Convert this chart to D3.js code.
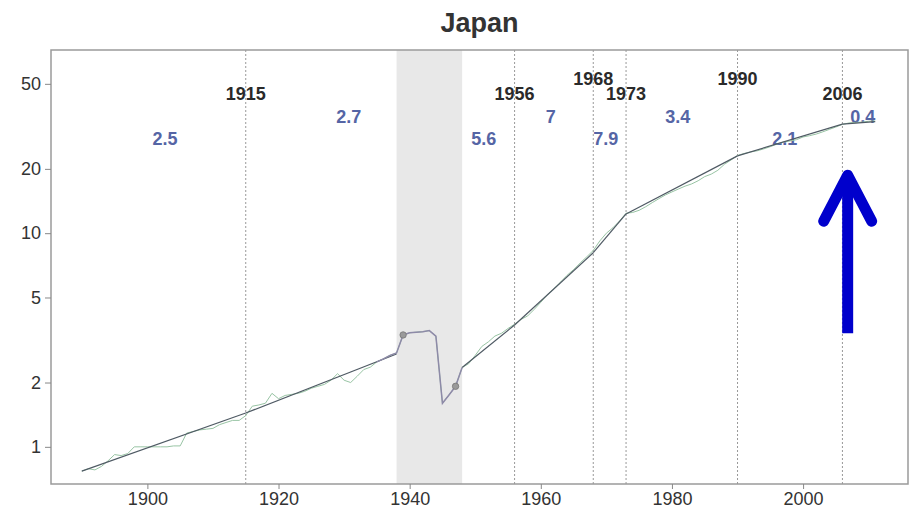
<!DOCTYPE html>
<html>
<head>
<meta charset="utf-8">
<script src="https://cdn.jsdelivr.net/npm/d3@7"></script>
<style>
  body { margin: 0; background: #fff; }
  svg { display: block; font-family: "Liberation Sans", Arial, sans-serif; }
</style>
</head>
<body>
<svg id="chart" width="922" height="511"></svg>
<script>
// GDP per capita index, Japan
const years = d3.range(1890, 2012)
const values = [
  0.77, 0.79, 0.78, 0.81, 0.86, 0.92, 0.91, 0.93, 1.00, 1.00,
  1.00, 1.00, 1.00, 1.00, 1.01, 1.01, 1.16, 1.18, 1.20, 1.21,
  1.22, 1.27, 1.30, 1.33, 1.33, 1.40, 1.55, 1.57, 1.60, 1.78,
  1.68, 1.74, 1.76, 1.78, 1.82, 1.88, 1.92, 1.96, 2.05, 2.20,
  2.05, 2.00, 2.14, 2.30, 2.36, 2.50, 2.58, 2.68, 2.75, 3.34,
  3.42, 3.44, 3.46, 3.50, 3.30, 1.60, 1.75, 1.92, 2.35, 2.45,
  2.68, 2.95, 3.10, 3.30, 3.40, 3.58, 3.75, 3.95, 4.10, 4.40,
  4.75, 5.15, 5.50, 5.90, 6.35, 6.75, 7.25, 7.75, 8.30, 9.20,
  10.0, 10.6, 11.4, 12.4, 12.5, 12.8, 13.3, 13.9, 14.5, 15.1,
  15.6, 16.1, 16.6, 17.0, 17.6, 18.4, 18.9, 19.7, 21.0, 22.0,
  23.1, 23.6, 24.0, 24.3, 24.8, 25.4, 26.1, 26.7, 27.0, 27.4,
  28.2, 28.6, 29.1, 29.8, 30.6, 31.4, 32.3, 32.8, 33.0, 33.1,
  33.4, 33.5
]

// piecewise trend, broken over the war years
const trendYears = [1890, 1915, 1938, 1948, 1956, 1968, 1973, 1990, 2006, 2011]
const trendValues = [0.77, 1.44, 2.72, 2.35, 3.72, 8.1, 12.3, 23.0, 32.4, 33.3]

const warStart = 1938
const warEnd = 1948
const warMarkers = [1939, 1947]

const breakYears = [1915, 1956, 1968, 1973, 1990, 2006]
const rateLabels = ["2.5", "2.7", "5.6", "7", "7.9", "3.4", "2.1", "0.4"]
const rateYears = [1902.7, 1930.7, 1951.3, 1961.5, 1969.9, 1980.9, 1997.2, 2009.1]

const xTicks = [1900, 1920, 1940, 1960, 1980, 2000]
const yTicks = [1, 2, 5, 10, 20, 50]

// arrow annotation (data units)
const arrowYear = 2006.8
const arrowFrom = 3.4
const arrowTo = 19.5

const svg = d3.select("#chart")
const margin = { top: 50, right: 14, bottom: 27, left: 51 }
const width = 922 - margin.left - margin.right
const height = 511 - margin.top - margin.bottom

const x = d3.scaleLinear().domain([1885.3, 2016]).range([margin.left, margin.left + width])
const y = d3.scaleLog().domain([0.67, 72]).range([margin.top + height, margin.top])

const data = years.map((yr, i) => ({ year: yr, value: values[i] }))
const trend = trendYears.map((yr, i) => ({ year: yr, value: trendValues[i] }))

// title
svg.append("text")
  .attr("x", margin.left + width / 2)
  .attr("y", 32)
  .attr("text-anchor", "middle")
  .attr("font-size", 27)
  .attr("font-weight", "bold")
  .attr("fill", "#333")
  .text("Japan")

// war shading
svg.append("rect")
  .attr("x", x(warStart))
  .attr("y", margin.top)
  .attr("width", x(warEnd) - x(warStart))
  .attr("height", height)
  .attr("fill", "#e8e8e8")

// break lines
svg.selectAll(".break")
  .data(breakYears)
  .join("line")
  .attr("class", "break")
  .attr("x1", d => x(d)).attr("x2", d => x(d))
  .attr("y1", margin.top).attr("y2", margin.top + height)
  .attr("stroke", "#999")
  .attr("stroke-width", 1)
  .attr("stroke-dasharray", "2,2")

// break year labels, raised where they would crowd
const raised = new Set([1968, 1990])
svg.selectAll(".break-label")
  .data(breakYears)
  .join("text")
  .attr("class", "break-label")
  .attr("x", d => x(d))
  .attr("y", d => margin.top + (raised.has(d) ? 35 : 50))
  .attr("text-anchor", "middle")
  .attr("font-size", 18)
  .attr("font-weight", "bold")
  .attr("fill", "#2a2a2a")
  .text(d => d)

// growth rate labels
svg.selectAll(".rate-label")
  .data(rateLabels)
  .join("text")
  .attr("class", "rate-label")
  .attr("x", (d, i) => x(rateYears[i]))
  .attr("y", (d, i) => margin.top + (i % 2 ? 73 : 95))
  .attr("text-anchor", "middle")
  .attr("font-size", 18)
  .attr("font-weight", "bold")
  .attr("fill", "#5565a5")
  .text(d => d)

const line = d3.line().x(d => x(d.year)).y(d => y(d.value))

// actual series
svg.append("path")
  .datum(data)
  .attr("fill", "none")
  .attr("stroke", "#98c4a4")
  .attr("stroke-width", 1)
  .attr("d", line)

// trend segments
for (let i = 0; i < trend.length - 1; i++) {
  if (trend[i].year === warStart) continue
  svg.append("path")
    .datum([trend[i], trend[i + 1]])
    .attr("fill", "none")
    .attr("stroke", "#4f5a64")
    .attr("stroke-width", 1.2)
    .attr("d", line)
}

// war years of the series
svg.append("path")
  .datum(data.filter(d => d.year >= warStart - 3 && d.year <= warEnd))
  .attr("fill", "none")
  .attr("stroke", "#8e8aa8")
  .attr("stroke-width", 1.5)
  .attr("d", line)

svg.selectAll(".war-dot")
  .data(data.filter(d => warMarkers.includes(d.year)))
  .join("circle")
  .attr("class", "war-dot")
  .attr("cx", d => x(d.year))
  .attr("cy", d => y(d.value))
  .attr("r", 3.2)
  .attr("fill", "#9a9a9a")
  .attr("stroke", "#777")
  .attr("stroke-width", 0.8)

// frame
svg.append("rect")
  .attr("x", margin.left).attr("y", margin.top)
  .attr("width", width).attr("height", height)
  .attr("fill", "none")
  .attr("stroke", "#9a9a9a")
  .attr("stroke-width", 1.5)

// axes
const xAxis = svg.append("g")
  .attr("transform", `translate(0,${margin.top + height})`)
  .call(d3.axisBottom(x).tickValues(xTicks).tickFormat(d3.format("d")).tickSize(5).tickPadding(3))
const yAxis = svg.append("g")
  .attr("transform", `translate(${margin.left},0)`)
  .call(d3.axisLeft(y).tickValues(yTicks).tickFormat(d3.format("d")).tickSize(6).tickPadding(4))

for (const ax of [xAxis, yAxis]) {
  ax.select(".domain").remove()
  ax.selectAll(".tick line").attr("stroke", "#888")
  ax.selectAll(".tick text")
    .attr("font-family", "Liberation Sans, Arial, sans-serif")
    .attr("font-size", 18)
    .attr("fill", "#333")
}

// blue arrow
const ax0 = x(arrowYear)
const tipY = y(arrowTo)
const arrow = svg.append("g")
  .attr("stroke", "#0000cc")
  .attr("stroke-width", 11)
  .attr("fill", "none")
arrow.append("line")
  .attr("x1", ax0).attr("x2", ax0)
  .attr("y1", y(arrowFrom)).attr("y2", tipY + 6)
arrow.append("path")
  .attr("d", `M${ax0 - 24},${tipY + 50} L${ax0},${tipY + 4} L${ax0 + 24},${tipY + 50}`)
  .attr("stroke-linecap", "round")
  .attr("stroke-linejoin", "round")
</script>
</body>
</html>
